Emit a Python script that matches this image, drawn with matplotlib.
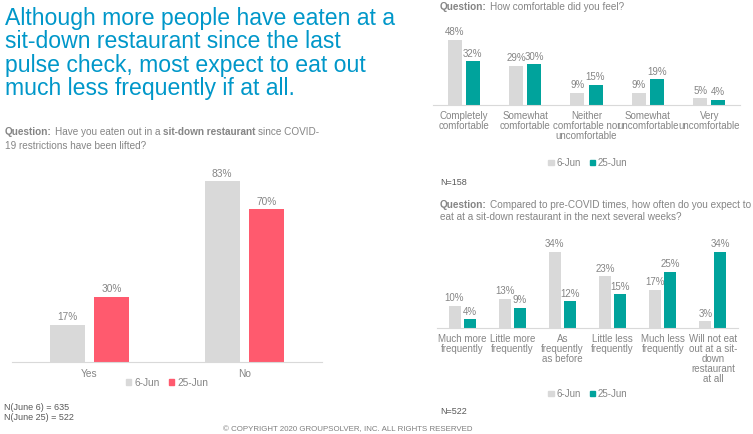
import matplotlib
matplotlib.use('Agg')
import matplotlib.pyplot as plt
from matplotlib.patches import Patch
import numpy as np

W, H = 753, 434
plt.rcParams['font.family'] = ['Liberation Sans', 'DejaVu Sans']

GRAY_BAR = '#D9D9D9'
RED = '#FF5A6E'
TEAL = '#00A39C'
TXT = '#858585'
TITLE = '#0097C9'
AXIS = '#D9D9D9'

title_lines = ["Although more people have eaten at a",
               "sit-down restaurant since the last",
               "pulse check, most expect to eat out",
               "much less frequently if at all."]

series = ['6-Jun', '25-Jun']

eaten_cats = ['Yes', 'No']
eaten_jun6 = [17, 83]
eaten_jun25 = [30, 70]

comfort_cats = ['Completely\ncomfortable', 'Somewhat\ncomfortable',
                'Neither\ncomfortable nor\nuncomfortable',
                'Somewhat\nuncomfortable', 'Very\nuncomfortable']
comfort_jun6 = [48, 29, 9, 9, 5]
comfort_jun25 = [32, 30, 15, 19, 4]

freq_cats = ['Much more\nfrequently', 'Little more\nfrequently',
             'As\nfrequently\nas before', 'Little less\nfrequently',
             'Much less\nfrequently',
             'Will not eat\nout at a sit-\ndown\nrestaurant\nat all']
freq_jun6 = [10, 13, 34, 23, 17, 3]
freq_jun25 = [4, 9, 12, 15, 25, 34]

fig = plt.figure(figsize=(W / 100, H / 100), dpi=100)
renderer = fig.canvas.get_renderer()


def fx(x):
    return x / W


def fy(y):
    return 1 - y / H


def add_ax(x0, x1, ybase, ytop):
    return fig.add_axes([fx(x0), fy(ybase), (x1 - x0) / W, (ybase - ytop) / H])


def rich(x, y, pieces, size=7.2, color=TXT):
    """pieces: list of (text, bold). x,y in px (y = baseline)."""
    cur = x
    space = 0.2778 * size * 100 / 72
    for txt, bold in pieces:
        lead = len(txt) - len(txt.lstrip(' '))
        trail = len(txt) - len(txt.rstrip(' '))
        cur += lead * space
        t = fig.text(fx(cur), fy(y), txt.strip(), fontsize=size, color=color,
                     fontweight='bold' if bold else 'normal', va='baseline', ha='left')
        bb = t.get_window_extent(renderer)
        cur += bb.width + trail * space


def grouped(ax, cats, v1, v2, c2, ymax, width, off, pad, fs=7):
    x = np.arange(len(cats))
    b1 = ax.bar(x - off, v1, width, color=GRAY_BAR)
    b2 = ax.bar(x + off, v2, width, color=c2)
    for bars, vals in ((b1, v1), (b2, v2)):
        for b, v in zip(bars, vals):
            ax.annotate(f"{v}%", (b.get_x() + b.get_width() / 2, v),
                        xytext=(0, 1.8), textcoords='offset points',
                        ha='center', va='bottom', fontsize=fs, color=TXT,
                        annotation_clip=False)
    ax.set_xlim(-0.5, len(cats) - 0.5)
    ax.set_ylim(0, ymax)
    ax.set_xticks(x)
    ax.set_xticklabels(cats, fontsize=fs, color=TXT, linespacing=1.0)
    ax.tick_params(axis='x', length=0, pad=pad)
    ax.set_yticks([])
    for s in ('top', 'left', 'right'):
        ax.spines[s].set_visible(False)
    ax.spines['bottom'].set_color(AXIS)
    ax.spines['bottom'].set_linewidth(0.8)
    ax.patch.set_alpha(0)
    return ax


def legend(xc, yc, c2, fs=7):
    handles = [Patch(color=GRAY_BAR), Patch(color=c2)]
    fig.legend(handles, series, loc='center', bbox_to_anchor=(fx(xc), fy(yc)),
               ncol=2, frameon=False, fontsize=fs, labelcolor=TXT,
               handlelength=0.55, handleheight=0.55, handletextpad=0.3,
               columnspacing=0.9, borderpad=0, borderaxespad=0)


# Title
for i, line in enumerate(title_lines):
    fig.text(fx(5), fy(25 + i * 23.5), line, fontsize=16.6, color=TITLE,
             va='baseline', ha='left')

# Left chart
rich(5, 135, [("Question:", True), (" Have you eaten out in a ", False),
              ("sit-down restaurant", True), (" since COVID-", False)])
rich(5, 149, [("19 restrictions have been lifted?", False)])
ax1 = add_ax(12, 322, 362, 362 - 90 * 2.18)
grouped(ax1, eaten_cats, eaten_jun6, eaten_jun25, RED, 90, 0.226, 0.145, 5, fs=7.3)
legend(167, 383, RED, fs=7.3)
fig.text(fx(4), fy(410), "N(June 6) = 635", fontsize=6.5, color='#595959', va='baseline')
fig.text(fx(4), fy(420), "N(June 25) = 522", fontsize=6.5, color='#595959', va='baseline')

# Top right chart
rich(440, 10, [("Question:", True), (" How comfortable did you feel?", False)])
ax2 = add_ax(433, 740, 105, 105 - 55 * 1.36)
grouped(ax2, comfort_cats, comfort_jun6, comfort_jun25, TEAL, 55, 0.228, 0.147, 4.5)
legend(588, 163, TEAL)
fig.text(fx(440), fy(185), "N=158", fontsize=6.5, color='#595959', va='baseline')

# Bottom right chart
rich(440, 208, [("Question:", True),
                (" Compared to pre-COVID times, how often do you expect to", False)])
rich(440, 220, [("eat at a sit-down restaurant in the next several weeks?", False)])
ax3 = add_ax(437, 738, 328, 328 - 40 * 2.24)
grouped(ax3, freq_cats, freq_jun6, freq_jun25, TEAL, 40, 0.24, 0.15, 4.5)
legend(588, 394, TEAL)
fig.text(fx(440), fy(414), "N=522", fontsize=6.5, color='#595959', va='baseline')

# Footer
fig.text(fx(348), fy(431), "\u00a9 COPYRIGHT 2020 GROUPSOLVER, INC. ALL RIGHTS RESERVED",
         fontsize=5.7, color='#7F7F7F', ha='center', va='baseline')

fig.savefig('out.png', dpi=100)
